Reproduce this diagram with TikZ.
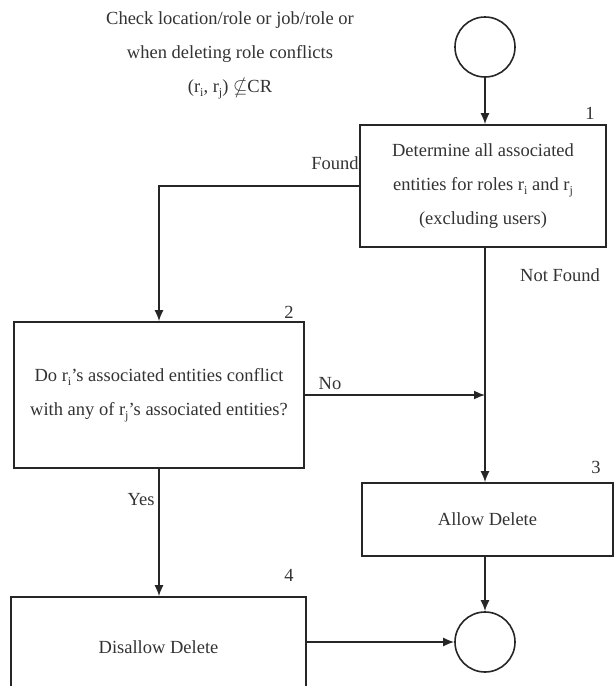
\documentclass[tikz,border=0pt]{standalone}
\usepackage{amssymb}
\usepackage{fontspec}
\setmainfont{Liberation Serif}
\usetikzlibrary{arrows.meta}
% lowered index letter used in the role names
\newcommand{\lo}[1]{\raisebox{-0.5ex}{\fontsize{12}{12}\selectfont #1}}
\begin{document}
\begin{tikzpicture}[x=1pt,y=-1pt,
  every node/.style={font=\fontsize{18.5}{34}\selectfont, text=black!80},
  box/.style={draw=black!85, line width=1.6pt, rectangle, align=center, inner sep=0},
  term/.style={draw=black!85, circle, line width=1.6pt, minimum size=60pt, inner sep=0},
  flow/.style={draw=black!85, line width=1.6pt, -{Latex[length=11pt,width=9pt]}},
  tag/.style={inner sep=0}]
\useasboundingbox (0,0) rectangle (614,686);

% condition note
\node[tag, align=center] (note) at (230,55)
  {Check location/role or job/role or\\when deleting role conflicts\\(r\lo{i}, r\lo{j}) $\nsubseteq$CR};

% terminals
\node[term] (start) at (485,47) {};
\node[term] (stop) at (485,642) {};

% process steps
\node[box, minimum width=246pt, minimum height=122pt] (b1) at (483,186)
  {Determine all associated\\entities for roles r\lo{i} and r\lo{j}\\(excluding users)};
\node[box, minimum width=290pt, minimum height=146pt] (b2) at (159,395)
  {Do r\lo{i}'s associated entities conflict\\with any of r\lo{j}'s associated entities?};
\node[box, minimum width=251pt, minimum height=73pt] (b3) at (487.5,519.5) {Allow Delete};
\node[box, minimum width=295pt, minimum height=100pt] (b4) at (158.5,647) {Disallow Delete};

% step numbers
\node[tag] (n1) at (590,113) {1};
\node[tag] (n2) at (289,312) {2};
\node[tag] (n3) at (596,467) {3};
\node[tag] (n4) at (289,575) {4};

% connectors
\draw[flow] (start) -- (b1.north -| start);
\draw[flow] (b1.west) -| (b2.north);
\draw[flow] (b1.south -| start) -- (b3.north -| start);
\draw[flow] (b2.east) -- (b2.east -| start);
\draw[flow] (b2.south) -- (b4.north -| b2.south);
\draw[flow] (stop.north |- b3.south) -- (stop);
\draw[flow] (b4.east |- stop) -- (stop);

% branch labels
\node[tag] (lfound) at (335,163) {Found};
\node[tag] (lnot) at (560,275) {Not Found};
\node[tag] (lno) at (330,384) {No};
\node[tag] (lyes) at (141,500) {Yes};
\end{tikzpicture}
\end{document}
